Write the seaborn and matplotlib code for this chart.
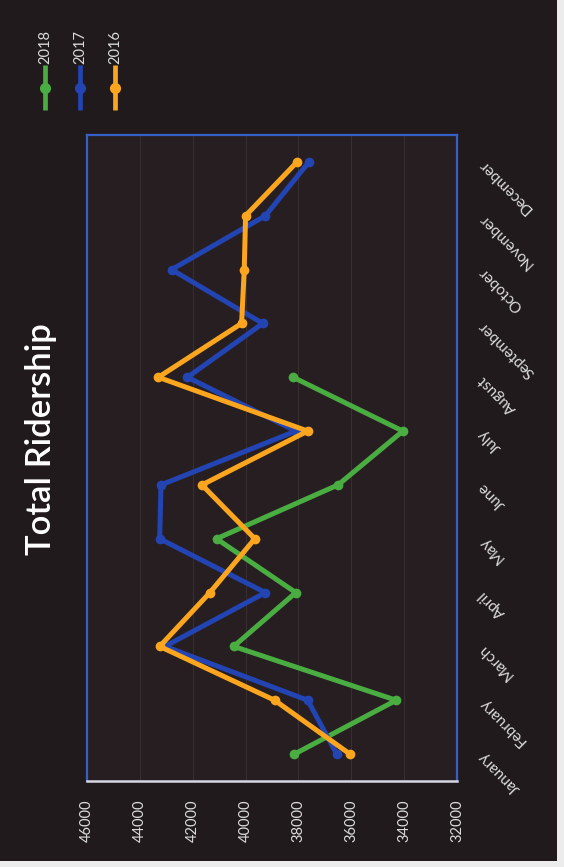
import numpy as np
import pandas as pd
import matplotlib
matplotlib.use("Agg")
import matplotlib.pyplot as plt
from matplotlib.lines import Line2D
from matplotlib.patches import Rectangle
import seaborn as sns

# Monthly ridership by year
months = ["January", "February", "March", "April", "May", "June",
          "July", "August", "September", "October", "November", "December"]
riders_2018 = [38150, 34300, 40450, 38100, 41100, 36500, 34050, 38200,
               np.nan, np.nan, np.nan, np.nan]
riders_2017 = [36550, 37650, 43050, 39250, 43250, 43200, 38100, 42200,
               39350, 42800, 39250, 37600]
riders_2016 = [36050, 38900, 43250, 41350, 39650, 41650, 37650, 43300,
               40150, 40050, 40000, 38050]
years = ["2018", "2017", "2016"]
x_ticks = [46000, 44000, 42000, 40000, 38000, 36000, 34000, 32000]

colors = {"2018": "#4aad41", "2017": "#2345b3", "2016": "#fba61e"}
BG = "#211a1c"
PLOT_BG = "#261e21"
TEXT = "#dcdcdc"

frames = []
for yr, vals in zip(years, [riders_2018, riders_2017, riders_2016]):
    frames.append(pd.DataFrame({"month": months, "pos": np.arange(len(months)),
                                "riders": vals, "year": yr}))
df = pd.concat(frames, ignore_index=True).dropna()

sns.set_theme(style="dark")
plt.rcParams["font.family"] = ["Lato", "DejaVu Sans"]

W, H = 564, 867
fig = plt.figure(figsize=(W / 100, H / 100), dpi=100, facecolor=BG)
ax = fig.add_axes([87 / W, 1 - 781 / H, (457 - 87) / W, (781 - 135) / H])
ax.set_facecolor(PLOT_BG)

sns.lineplot(data=df, x="riders", y="pos", hue="year", hue_order=years,
             palette=colors, orient="y", sort=False, estimator=None,
             marker="o", markersize=7, markeredgewidth=0, linewidth=3.6,
             legend=False, ax=ax)

ax.set_xlim(46000, 32000)
ax.set_ylim(-0.5, len(months) - 0.5)
ax.set_xticks(x_ticks)
ax.set_xticklabels([str(v) for v in x_ticks], rotation=90, color=TEXT,
                   fontsize=10.5)
ax.set_yticks(np.arange(len(months)))
ax.yaxis.tick_right()
ax.set_yticklabels(months, color=TEXT, fontsize=11)
ax.tick_params(axis="x", length=0, pad=13)
ax.tick_params(axis="y", length=0, pad=17)
for lab in ax.get_yticklabels():
    lab.set_rotation(135)
    lab.set_rotation_mode("anchor")
    lab.set_ha("right")
    lab.set_va("center")
ax.set_xlabel("")
ax.set_ylabel("")

ax.grid(axis="x", color="#372f32", linewidth=0.8)
ax.grid(axis="y", visible=False)
for side in ["left", "top", "right"]:
    ax.spines[side].set_color("#3560c4")
    ax.spines[side].set_linewidth(1.6)
    ax.spines[side].set_visible(True)
ax.spines["bottom"].set_color("#d6d6e4")
ax.spines["bottom"].set_linewidth(1.8)
ax.spines["bottom"].set_visible(True)

# Title, reading upward along the left edge
fig.text(41 / W, 1 - 439 / H, "Total Ridership", rotation=90, color="white",
         fontsize=25, fontweight="semibold", ha="center", va="center")

# Legend: vertical sample lines with the year written above
for i, yr in enumerate(years):
    xc = (45 + i * 35) / W
    fig.add_artist(Line2D([xc, xc], [1 - 65 / H, 1 - 110 / H],
                          transform=fig.transFigure, color=colors[yr],
                          linewidth=3.4, solid_capstyle="butt"))
    fig.add_artist(Line2D([xc], [1 - 88 / H], transform=fig.transFigure,
                          color=colors[yr], marker="o", markersize=7,
                          linestyle="none"))
    fig.text(xc, 1 - 64 / H, yr, rotation=90, color=TEXT, fontsize=10.5,
             ha="center", va="bottom")

# Light paper margin along the right and bottom edges
fig.add_artist(Rectangle((557 / W, 0), 7 / W, 1, transform=fig.transFigure,
                         facecolor="#ececec", edgecolor="none"))
fig.add_artist(Rectangle((0, 0), 1, 6 / H, transform=fig.transFigure,
                         facecolor="#ececec", edgecolor="none"))

fig.savefig("out.png", dpi=100, facecolor=BG)
